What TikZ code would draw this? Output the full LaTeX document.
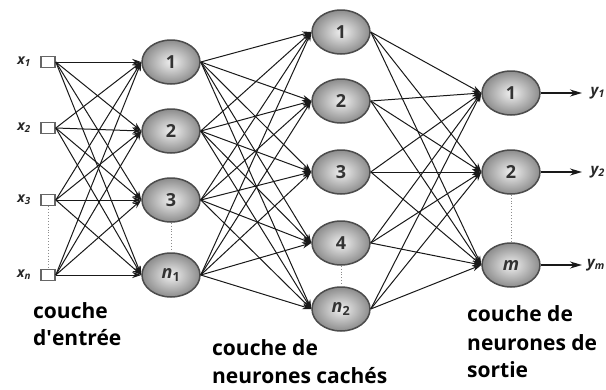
\documentclass[tikz,border=0pt]{standalone}
\usepackage{fontspec}
\setmainfont{Open Sans}
\usetikzlibrary{shapes.geometric,arrows.meta}
\begin{document}
\begin{tikzpicture}[x=1pt,y=-1pt,
 neuron/.style={ellipse, minimum width=58pt, minimum height=44pt, inner sep=0pt,
   draw=black!70, line width=1.5pt, inner color=black!6, outer color=black!45,
   font=\fontsize{18}{18}\selectfont\bfseries, text=black!80},
 inbox/.style={rectangle, minimum width=14pt, minimum height=11pt, inner sep=0pt,
   draw=black!60, line width=1.6pt, fill=white},
 conn/.style={draw=black!90, line width=1pt, -{Stealth[length=9pt,width=6pt]}},
 outarrow/.style={draw=black!90, line width=1.6pt, -{Stealth[length=12pt,width=7pt]}},
 dots/.style={draw=black!45, dotted, line width=0.9pt},
 lbl/.style={font=\fontsize{21}{21}\selectfont\bfseries, anchor=base west, inner sep=0pt},
 vlbl/.style={font=\fontsize{14}{14}\selectfont\bfseries\itshape, text=black!85, inner sep=0pt},
 ylbl/.style={font=\fontsize{15}{15}\selectfont\bfseries\itshape, text=black!85, inner sep=0pt, anchor=east}
]
\useasboundingbox (0,0) rectangle (606,389);

% input layer
\foreach \i/\y/\t in {1/62/1,2/128/2,3/200/3,4/275/n}{
  \node[inbox] (i\i) at (48,\y) {};
  \node[vlbl] (xl\i) at (24,\y) {x\textsubscript{\t}};
}
% hidden layer 1
\node[neuron] (a1) at (171,62) {1};
\node[neuron] (a2) at (171,131) {2};
\node[neuron] (a3) at (171,200) {3};
\node[neuron] (a4) at (171,275) {{\itshape n}\textsubscript{1}};
% hidden layer 2
\node[neuron] (b1) at (341,32) {1};
\node[neuron] (b2) at (341,101) {2};
\node[neuron] (b3) at (341,172) {3};
\node[neuron] (b4) at (341,243) {4};
\node[neuron] (b5) at (341,309) {{\itshape n}\textsubscript{2}};
% output layer
\node[neuron] (c1) at (511,93) {1};
\node[neuron] (c2) at (511,172) {2};
\node[neuron] (c3) at (511,265) {{\itshape m}};

% connections
\foreach \i in {1,...,4}{\foreach \j in {1,...,4}{\draw[conn] (i\i.east) -- (a\j.west);}}
\foreach \i in {1,...,4}{\foreach \j in {1,...,5}{\draw[conn] (a\i.east) -- (b\j.west);}}
\foreach \i in {1,...,5}{\foreach \j in {1,...,3}{\draw[conn] (b\i.east) -- (c\j.west);}}

% outputs
\foreach \i/\y/\t in {1/93/1,2/172/2,3/265/m}{
  \coordinate (o\i) at (582,\y);
  \draw[outarrow] (c\i.east) -- (o\i);
  \node[ylbl] (yl\i) at (605,\y) {y\textsubscript{\t}};
}

% dotted separators
\draw[dots] (i3.south) -- (i4.north);
\draw[dots] (a3.south) -- (a4.north);
\draw[dots] (b4.south) -- (b5.north);
\draw[dots] (c2.south) -- (c3.north);

% captions
\node[lbl] (t1) at (33,318) {couche};
\node[lbl] (t2) at (33,345) {d\textquotesingle entrée};
\node[lbl] (t3) at (212,355) {couche de};
\node[lbl] (t4) at (212,383) {neurones cachés};
\node[lbl] (t5) at (467,321) {couche de};
\node[lbl] (t6) at (467,350) {neurones de};
\node[lbl] (t7) at (467,377) {sortie};
\end{tikzpicture}
\end{document}
